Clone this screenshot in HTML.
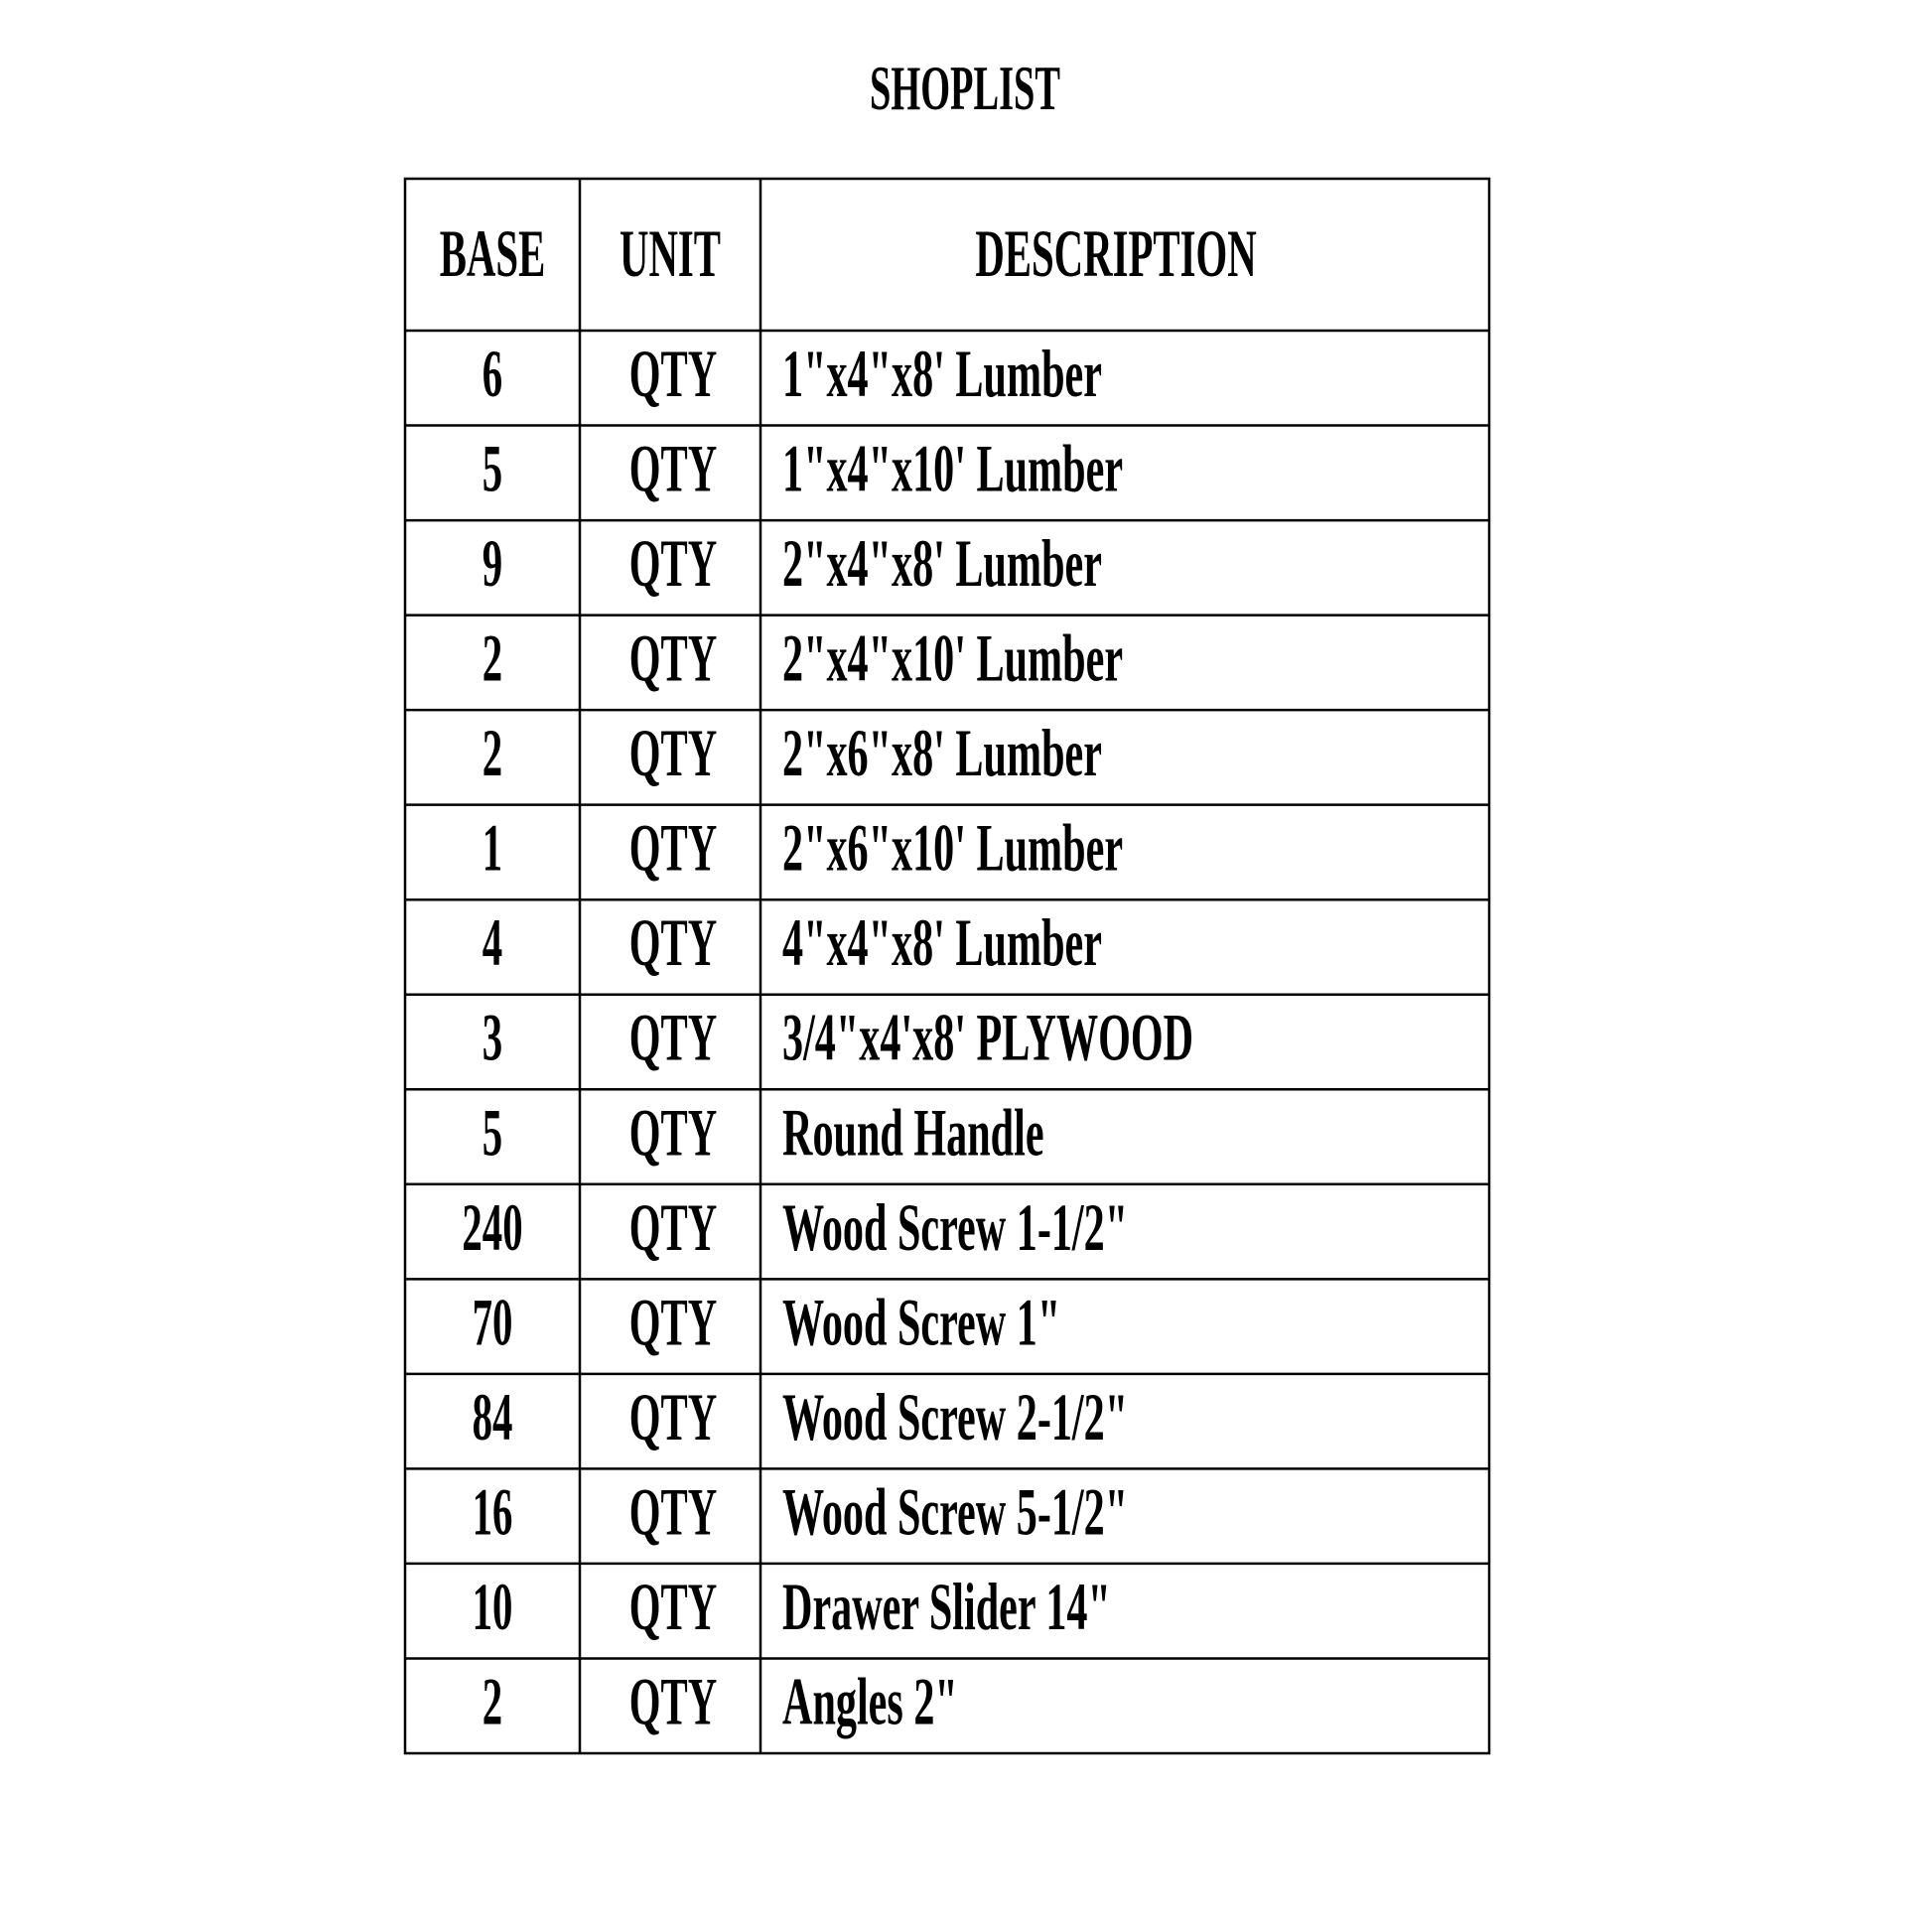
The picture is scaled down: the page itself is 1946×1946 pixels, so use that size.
<!DOCTYPE html>
<html><head><meta charset="utf-8"><style>
html,body{margin:0;padding:0;background:#fff;}
svg{display:block}
text{font-family:"Liberation Serif",serif;font-weight:bold;fill:#000;}
</style></head><body>
<svg width="1946" height="1946" viewBox="0 0 1946 1946" xmlns="http://www.w3.org/2000/svg">
<g stroke="#000" stroke-width="2.5" fill="none" id="lines">
<rect x="408" y="180" width="1092" height="1586"/>
<line x1="584" y1="180" x2="584" y2="1766"/>
<line x1="766" y1="180" x2="766" y2="1766"/>
</g>
<text font-size="64" text-anchor="middle" transform="translate(972,110) scale(0.6,1)">SHOPLIST</text>
<g font-size="68">
<text text-anchor="middle" transform="translate(496,278) scale(0.6,1)">BASE</text>
<text text-anchor="middle" transform="translate(675,278) scale(0.6,1)">UNIT</text>
<text text-anchor="middle" transform="translate(1124,278) scale(0.6,1)">DESCRIPTION</text>
</g>
<g font-size="68" id="rows"></g>
<script>
var d=[["6","1\"x4\"x8' Lumber"],["5","1\"x4\"x10' Lumber"],["9","2\"x4\"x8' Lumber"],["2","2\"x4\"x10' Lumber"],["2","2\"x6\"x8' Lumber"],["1","2\"x6\"x10' Lumber"],["4","4\"x4\"x8' Lumber"],["3","3/4\"x4'x8' PLYWOOD"],["5","Round Handle"],["240","Wood Screw 1-1/2\""],["70","Wood Screw 1\""],["84","Wood Screw 2-1/2\""],["16","Wood Screw 5-1/2\""],["10","Drawer Slider 14\""],["2","Angles 2\""]];
var g=document.getElementById('rows'),L=document.getElementById('lines'),ns="http://www.w3.org/2000/svg";
var H=(1766-333)/15;
for(var k=0;k<15;k++){var yy=333+H*k;var l=document.createElementNS(ns,'line');l.setAttribute('x1',408);l.setAttribute('x2',1500);l.setAttribute('y1',yy);l.setAttribute('y2',yy);L.appendChild(l);}
d.forEach(function(r,i){var y=333+H*i+66;
function t(s,x,a,sx){var e=document.createElementNS(ns,'text');e.setAttribute('transform','translate('+x+','+y+') scale('+sx+',1)');if(a)e.setAttribute('text-anchor',a);e.textContent=s;g.appendChild(e);}
t(r[0],496,'middle',0.6);t('QTY',678,'middle',0.6);t(r[1],788,null,0.62);});
</script>
</svg>
</body></html>
